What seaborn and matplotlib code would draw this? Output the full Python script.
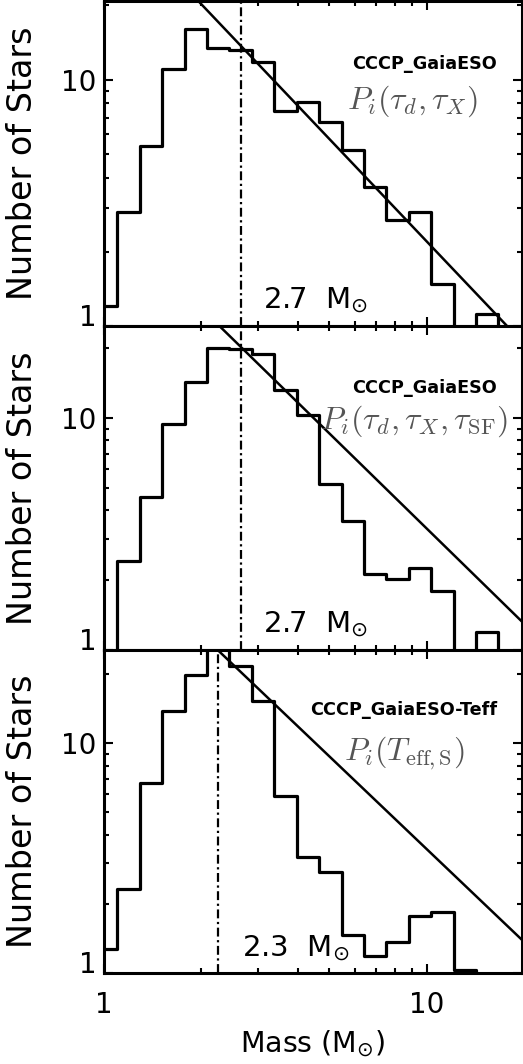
import numpy as np
import pandas as pd
import matplotlib
matplotlib.use("Agg")
import matplotlib.pyplot as plt
import seaborn as sns
from matplotlib.ticker import LogLocator, NullFormatter

sns.set_theme(style="white")
plt.rcParams['font.family'] = ['DejaVu Sans']
plt.rcParams['mathtext.fontset'] = 'dejavusans'

# ---------------- data ----------------
# histogram bin edges, log10(Mass / Msun)
bin_edges_log = [-0.0266, 0.0428, 0.1122, 0.1816, 0.2510, 0.3204, 0.3898, 0.4592,
                 0.5286, 0.5980, 0.6674, 0.7368, 0.8062, 0.8756, 0.9450, 1.0144,
                 1.0838, 1.1532, 1.2226, 1.2920]

counts_top = [1.21, 2.90, 5.39, 11.0, 16.0, 13.5, 13.2, 11.8, 7.43, 8.11,
              6.73, 5.19, 3.68, 2.70, 2.90, 1.48, 0.0, 1.12, 0.0]
counts_mid = [0.0, 2.43, 4.55, 9.42, 14.3, 20.1, 19.8, 18.9, 13.2, 10.3,
              5.2, 3.6, 2.13, 2.02, 2.26, 1.80, 0.0, 1.20, 0.0]
counts_bot = [1.27, 2.32, 6.75, 13.9, 19.8, 27.0, 21.8, 15.3, 5.9, 3.2,
              2.76, 1.46, 1.19, 1.37, 1.77, 1.84, 1.03, 0.0, 0.0]

# power-law fits  N = amp * M**slope
pl_slope = [-1.38, -1.36, -1.34]
pl_amp = [52.97, 76.6, 75.9]

# turnover masses (dash-dot lines) and their labels
peak_mass = [2.66, 2.66, 2.26]
peak_label = ["2.7  M$_{\\odot}$", "2.7  M$_{\\odot}$", "2.3  M$_{\\odot}$"]

sample_names = ["CCCP_GaiaESO", "CCCP_GaiaESO", "CCCP_GaiaESO-Teff"]
prob_labels = [r"$P_i(\tau_d,\tau_X)$",
               r"$P_i(\tau_d,\tau_X,\tau_{\rm SF})$",
               r"$P_i(T_{\rm eff,S})$"]

y_max = [20.85, 24.9, 25.5]
x_range = (1.0, 19.68)
mass_line = [1.0, 20.0]

# ---------------- layout ----------------
W, H = 523, 1064
fig = plt.figure(figsize=(W / 100, H / 100), dpi=100)
left = 103.5 / W
width = (521.5 - 103.5) / W
panel_px = [(1, 326), (326, 650), (650, 973)]
axes = []
for (t, b) in panel_px:
    ax = fig.add_axes([left, 1 - b / H, width, (b - t) / H])
    axes.append(ax)

all_counts = [counts_top, counts_mid, counts_bot]
edges = np.array(bin_edges_log)
centers = 10 ** (0.5 * (edges[:-1] + edges[1:]))

text_pos = [
    dict(name=(0.942, 0.807), prob=(0.739, 0.693), peak=(0.381, 0.055)),
    dict(name=(0.942, 0.808), prob=(0.743, 0.705), peak=(0.381, 0.055)),
    dict(name=(0.942, 0.814), prob=(0.721, 0.681), peak=(0.331, 0.053)),
]

for i, ax in enumerate(axes):
    df = pd.DataFrame({"mass": centers, "n": all_counts[i]})
    sns.histplot(data=df, x="mass", weights="n", bins=bin_edges_log,
                 log_scale=True, element="step", fill=False,
                 color="black", linewidth=2.3, ax=ax)
    m = np.array(mass_line)
    dfl = pd.DataFrame({"mass": m, "n": pl_amp[i] * m ** pl_slope[i]})
    sns.lineplot(data=dfl, x="mass", y="n", color="black", linewidth=1.8, ax=ax)
    ax.axvline(peak_mass[i], color="black", linewidth=1.6,
               linestyle=(0, (4, 1.6, 1, 1.6)))

    ax.set_xscale("log")
    ax.set_yscale("log")
    ax.set_xlim(*x_range)
    ax.set_ylim(1.0, y_max[i])

    ax.set_xticks([1, 10])
    ax.set_yticks([1, 10])
    ax.set_yticklabels(["1", "10"])
    ax.xaxis.set_minor_locator(LogLocator(base=10, subs=np.arange(2, 10)))
    ax.yaxis.set_minor_locator(LogLocator(base=10, subs=np.arange(2, 10)))
    ax.xaxis.set_minor_formatter(NullFormatter())
    ax.yaxis.set_minor_formatter(NullFormatter())
    ax.tick_params(which="both", direction="in", top=True, right=True,
                   left=True, bottom=True,
                   color="black", width=1.5, labelsize=20, labelcolor="black")
    ax.tick_params(which="major", length=6.5)
    ax.tick_params(which="minor", length=3.3)
    ax.tick_params(axis="y", pad=5)
    ax.tick_params(axis="x", pad=13)
    if i < 2:
        ax.tick_params(axis="x", labelbottom=False)
        ax.set_xlabel("")
    else:
        ax.set_xticklabels(["1", "10"])
        ax.set_xlabel("Mass (M$_{\\odot}$)", fontsize=20.5, color="black")
        ax.xaxis.set_label_coords(0.5, -0.172)
    for s in ax.spines.values():
        s.set_linewidth(2.2)
        s.set_color("black")
    ax.set_ylabel("Number of Stars", fontsize=24, color="black")
    ax.yaxis.set_label_coords(-0.155, 0.5)

    p = text_pos[i]
    ax.text(*p["name"], sample_names[i], transform=ax.transAxes,
            ha="right", va="center", fontsize=12.7, fontweight="bold", color="black")
    ax.text(*p["prob"], prob_labels[i], transform=ax.transAxes,
            ha="center", va="center", fontsize=23, color="#555555",
            math_fontfamily="cm")
    ax.text(*p["peak"], peak_label[i], transform=ax.transAxes,
            ha="left", va="baseline", fontsize=21, color="black")

fig.canvas.draw()
for ax in axes:
    for tick in ax.yaxis.get_major_ticks():
        if np.isclose(tick.get_loc(), 1.0):
            tick.label1.set_verticalalignment("baseline")

fig.savefig("out.png", dpi=100)
